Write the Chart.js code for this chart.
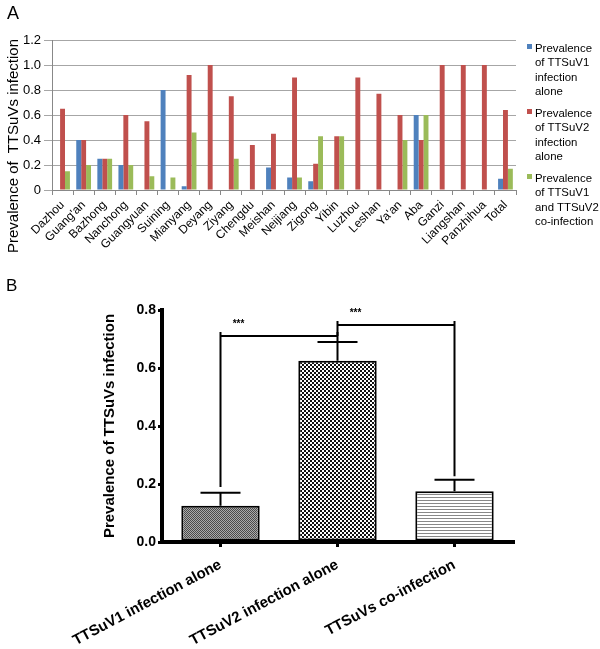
<!DOCTYPE html>
<html>
<head>
<meta charset="utf-8">
<script src="https://cdn.jsdelivr.net/npm/chart.js@4"></script>
<style>
  body { margin: 0; background: #fff; font-family: "Liberation Sans", Arial, sans-serif; }
  #wrap { position: relative; width: 600px; height: 649px; overflow: hidden; }
  canvas { position: absolute; left: 0; }
  #chartA { top: 0; }
  #chartB { top: 290px; }
  .panel { position: absolute; font-size: 18px; color: #000; }
  .ytitle { position: absolute; white-space: nowrap; transform: translate(-50%, -50%) rotate(-90deg); font-size: 15px; }
  .leg { position: absolute; left: 527px; font-size: 11.4px; line-height: 14.3px; color: #000; white-space: nowrap; }
  .leg span.sw { position: absolute; left: 0; top: 3px; width: 5px; height: 5px; }
  .leg div { padding-left: 8px; }
</style>
</head>
<body>
<div id="wrap">
  <canvas id="chartA" width="600" height="268"></canvas>
  <canvas id="chartB" width="600" height="359"></canvas>
  <div class="panel" style="left:7px; top:3px;">A</div>
  <div class="panel" style="left:6px; top:276px; font-size:17px;">B</div>
  <div class="ytitle" style="left:12px; top:146px;">Prevalence of&nbsp; TTSuVs infection</div>
  <div class="leg" style="top:41px;"><span class="sw" style="background:#4F81BD"></span><div>Prevalence<br>of TTSuV1<br>infection<br>alone</div></div>
  <div class="leg" style="top:106px;"><span class="sw" style="background:#C0504D"></span><div>Prevalence<br>of TTSuV2<br>infection<br>alone</div></div>
  <div class="leg" style="top:171px;"><span class="sw" style="background:#9BBB59"></span><div>Prevalence<br>of TTSuV1<br>and TTSuV2<br>co-infection</div></div>
</div>
<script>
// Panel A: prevalence by region
const regions = ['Dazhou', "Guang'an", 'Bazhong', 'Nanchong', 'Guangyuan', 'Suining', 'Mianyang', 'Deyang',
  'Ziyang', 'Chengdu', 'Meishan', 'Neijiang', 'Zigong', 'Yibin', 'Luzhou', 'Leshan', "Ya'an", 'Aba',
  'Ganzi', 'Liangshan', 'Panzhihua', 'Total'];
const tsv1Alone = [0, 0.4, 0.25, 0.2, 0, 0.8, 0.03, 0, 0, 0, 0.18, 0.1, 0.07, 0, 0, 0, 0, 0.6, 0, 0, 0, 0.09];
const tsv2Alone = [0.65, 0.4, 0.25, 0.6, 0.55, 0, 0.92, 1, 0.75, 0.36, 0.45, 0.9, 0.21, 0.43, 0.9, 0.77, 0.6, 0.4, 1, 1, 1, 0.64];
const coInfect = [0.15, 0.2, 0.25, 0.2, 0.11, 0.1, 0.46, 0, 0.25, 0, 0, 0.1, 0.43, 0.43, 0, 0, 0.4, 0.6, 0, 0, 0, 0.17];

// Panel B: overall prevalence with SEM
const groups = ['TTSuV1 infection alone', 'TTSuV2 infection alone', 'TTSuVs co-infection'];
const groupMean = [0.125, 0.625, 0.175];
const groupErr = [0.045, 0.065, 0.04];
// significance brackets: from group, to group, level, leg ends
const sigFrom = [0, 1];
const sigTo = [1, 2];
const sigLevel = [0.71, 0.748];
const sigLegFrom = [0.19, 0.71];
const sigLegTo = [0.69, 0.227];
const sigText = ['***', '***'];

const fontA = 'Liberation Sans, Arial, sans-serif';

new Chart(document.getElementById('chartA'), {
  type: 'bar',
  data: {
    labels: regions,
    datasets: [
      { label: 'Prevalence of TTSuV1 infection alone', data: tsv1Alone, backgroundColor: '#4F81BD' },
      { label: 'Prevalence of TTSuV2 infection alone', data: tsv2Alone, backgroundColor: '#C0504D' },
      { label: 'Prevalence of TTSuV1 and TTSuV2 co-infection', data: coInfect, backgroundColor: '#9BBB59' }
    ]
  },
  options: {
    responsive: false,
    animation: false,
    layout: { padding: { top: 40, right: 84, left: 0, bottom: 0 } },
    plugins: { legend: { display: false }, tooltip: { enabled: false } },
    datasets: { bar: { categoryPercentage: 0.7, barPercentage: 1 } },
    scales: {
      x: {
        afterFit: s => { s.height = 78; },
        border: { color: '#888' },
        grid: { drawOnChartArea: false, tickLength: 5, color: '#888', offset: true },
        ticks: { autoSkip: false, minRotation: 45, maxRotation: 45, color: '#000', padding: 3,
          font: { family: fontA, size: 12 } }
      },
      y: {
        min: 0, max: 1.2,
        afterFit: s => { s.width = 52; },
        border: { color: '#888' },
        grid: { color: '#a6a6a6', tickLength: 8 },
        ticks: { stepSize: 0.2, color: '#000', padding: 3, font: { family: fontA, size: 13 } }
      }
    }
  }
});

function tile(w, h, draw) {
  const c = document.createElement('canvas');
  c.width = w; c.height = h;
  const x = c.getContext('2d');
  draw(x);
  return x.createPattern(c, 'repeat');
}
const patDots = tile(2, 2, x => {
  x.fillStyle = '#aaa'; x.fillRect(0, 0, 2, 2);
  x.fillStyle = '#4a4a4a'; x.fillRect(0, 0, 1, 1); x.fillRect(1, 1, 1, 1);
});
const patCheck = tile(4, 4, x => {
  x.fillStyle = '#fff'; x.fillRect(0, 0, 4, 4);
  x.fillStyle = '#111'; x.fillRect(0, 0, 2, 2); x.fillRect(2, 2, 2, 2);
});
const patLines = tile(2, 3, x => {
  x.fillStyle = '#fff'; x.fillRect(0, 0, 2, 3);
  x.fillStyle = '#888'; x.fillRect(0, 0, 2, 1);
});

const errorAndSig = {
  id: 'errorAndSig',
  afterDatasetsDraw(chart) {
    const { ctx, scales: { x, y } } = chart;
    ctx.save();
    ctx.strokeStyle = '#000';
    ctx.lineWidth = 2;
    groupMean.forEach((m, i) => {
      const px = x.getPixelForValue(i);
      const top = y.getPixelForValue(m + groupErr[i]);
      ctx.beginPath();
      ctx.moveTo(px, y.getPixelForValue(m));
      ctx.lineTo(px, top);
      ctx.moveTo(px - 20, top);
      ctx.lineTo(px + 20, top);
      ctx.stroke();
    });
    ctx.fillStyle = '#000';
    ctx.font = 'bold 10px Liberation Sans, Arial, sans-serif';
    ctx.textAlign = 'center';
    sigFrom.forEach((a, i) => {
      const x1 = x.getPixelForValue(a);
      const x2 = x.getPixelForValue(sigTo[i]);
      const yl = y.getPixelForValue(sigLevel[i]);
      ctx.beginPath();
      ctx.moveTo(x1, yl - 4);
      ctx.lineTo(x1, y.getPixelForValue(sigLegFrom[i]));
      ctx.moveTo(x2, yl - 4);
      ctx.lineTo(x2, y.getPixelForValue(sigLegTo[i]));
      ctx.moveTo(x1, yl);
      ctx.lineTo(x2, yl);
      ctx.stroke();
      ctx.fillText(sigText[i], x1 + 18, yl - 9);
    });
    ctx.restore();
  }
};

new Chart(document.getElementById('chartB'), {
  type: 'bar',
  data: {
    labels: groups,
    datasets: [{
      data: groupMean,
      backgroundColor: [patDots, patCheck, patLines],
      borderColor: '#000',
      borderWidth: 2,
      borderSkipped: false,
      barPercentage: 0.67,
      categoryPercentage: 1
    }]
  },
  options: {
    responsive: false,
    animation: false,
    layout: { padding: { top: 20, right: 87, left: 0, bottom: 0 } },
    plugins: { legend: { display: false }, tooltip: { enabled: false } },
    scales: {
      x: {
        afterFit: s => { s.height = 107; },
        border: { color: '#000', width: 4 },
        grid: { drawOnChartArea: false, tickLength: 5, lineWidth: 3, color: '#000', offset: false },
        ticks: { autoSkip: false, minRotation: 28, maxRotation: 28, color: '#000', padding: 9,
          font: { family: fontA, size: 15, weight: 'bold' } }
      },
      y: {
        min: 0, max: 0.8,
        afterFit: s => { s.width = 162; },
        border: { color: '#000', width: 4 },
        grid: { drawOnChartArea: false, tickLength: 4, lineWidth: 3, color: '#000' },
        title: { display: true, text: 'Prevalence of TTSuVs infection', color: '#000',
          padding: { top: 101, bottom: 0 }, font: { family: fontA, size: 15, weight: 'bold' } },
        ticks: { stepSize: 0.2, color: '#000', padding: 2, callback: v => v.toFixed(1),
          font: { family: fontA, size: 14, weight: 'bold' } }
      }
    }
  },
  plugins: [errorAndSig]
});
</script>
</body>
</html>
